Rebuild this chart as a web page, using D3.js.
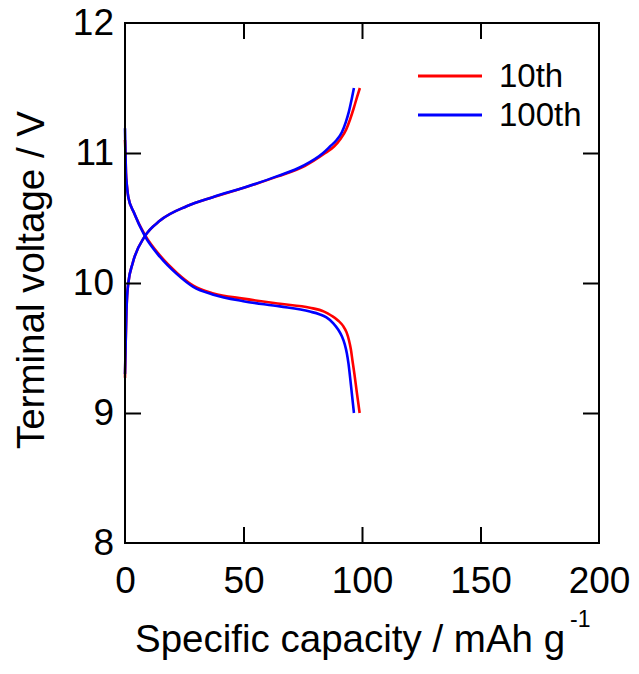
<!DOCTYPE html>
<html>
<head>
<meta charset="utf-8">
<script src="https://cdn.jsdelivr.net/npm/d3@7"></script>
<style>
html,body{margin:0;padding:0;background:#fff;}
text{font-family:Arial,"Liberation Sans",sans-serif;fill:#000;}
</style>
</head>
<body>
<svg id="chart" width="639" height="674"></svg>
<script>
// ---- data ----
const seriesNames = ["10th", "100th"];
const seriesColors = ["#ff0000", "#0000ff"];

const charge10Cap = [0, 0.3, 0.6, 0.9, 1.4, 3.2, 8.4, 14.8, 26, 37, 51.5, 64.5, 75.8, 84.5, 88.2, 91, 93.3, 95, 96.6, 97.9, 99.1];
const charge10V   = [9.27, 9.55, 9.78, 9.9, 10.0, 10.15, 10.36, 10.48, 10.59, 10.66, 10.74, 10.82, 10.9, 11.0, 11.05, 11.11, 11.18, 11.26, 11.35, 11.43, 11.5];
const discharge10Cap = [0, 0.2, 0.4, 0.8, 1.4, 3.8, 8.4, 14.8, 21.8, 28.8, 37.3, 49.9, 65.4, 78, 84, 87, 90, 92, 93.5, 94.5, 95.3, 96, 96.8, 97.8, 99.0];
const discharge10V   = [11.1, 11.0, 10.85, 10.75, 10.66, 10.54, 10.37, 10.21, 10.08, 9.98, 9.92, 9.88, 9.84, 9.81, 9.78, 9.75, 9.71, 9.67, 9.62, 9.56, 9.49, 9.4, 9.3, 9.16, 9.0];

const charge100Cap = [0, 0.3, 0.6, 0.9, 1.4, 3.2, 8.4, 14.8, 26, 37, 51.3, 64, 75, 83.6, 86.5, 89.3, 91.5, 93.2, 94.5, 95.6, 96.6];
const charge100V   = [9.3, 9.55, 9.78, 9.9, 10.0, 10.15, 10.36, 10.48, 10.59, 10.66, 10.74, 10.82, 10.9, 11.0, 11.05, 11.1, 11.16, 11.24, 11.32, 11.41, 11.5];
const discharge100Cap = [0, 0.2, 0.4, 0.8, 1.4, 3.8, 8.4, 14.8, 21.8, 28.8, 37.3, 49.9, 65.4, 78, 82, 85, 87.9, 90, 91.5, 92.7, 93.6, 94.3, 95.3, 96.6];
const discharge100V   = [11.19, 11.0, 10.85, 10.75, 10.66, 10.54, 10.36, 10.2, 10.07, 9.97, 9.91, 9.86, 9.82, 9.78, 9.76, 9.735, 9.69, 9.64, 9.59, 9.53, 9.46, 9.38, 9.22, 9.0];

const xTicks = [0, 50, 100, 150, 200];
const yTicks = [8, 9, 10, 11, 12];
const xTitle = "Specific capacity / mAh g";
const xTitleSup = "-1";
const yTitle = "Terminal voltage / V";

// ---- layout ----
const svg = d3.select("#chart");
const L = 125, R = 599, T = 23, B = 543;
const x = d3.scaleLinear().domain([0, 200]).range([L, R]);
const y = d3.scaleLinear().domain([8, 12]).range([B, T]);
const tickLen = 16;
const fs = 37;
const fsTitle = 38.5;

const zip = (a, b) => a.map((v, i) => [v, b[i]]);
const curves = [
  {pts: zip(charge10Cap, charge10V), s: 0},
  {pts: zip(discharge10Cap, discharge10V), s: 0},
  {pts: zip(charge100Cap, charge100V), s: 1},
  {pts: zip(discharge100Cap, discharge100V), s: 1}
];

const line = d3.line().x(d => x(d[0])).y(d => y(d[1])).curve(d3.curveMonotoneX);

svg.append("g").selectAll("path").data(curves).join("path")
  .attr("d", d => line(d.pts))
  .attr("fill", "none")
  .attr("stroke", d => seriesColors[d.s])
  .attr("stroke-width", 2.6)
  .attr("stroke-linejoin", "round");

// axes (inward ticks on all sides)
const axB = svg.append("g").attr("transform", `translate(0,${B})`)
  .call(d3.axisBottom(x).tickValues(xTicks).tickFormat(d3.format("d")).tickSizeInner(-tickLen).tickSizeOuter(0).tickPadding(24));
const axT = svg.append("g").attr("transform", `translate(0,${T})`)
  .call(d3.axisTop(x).tickValues(xTicks).tickSizeInner(-tickLen).tickSizeOuter(0).tickFormat(""));
const axL = svg.append("g").attr("transform", `translate(${L},0)`)
  .call(d3.axisLeft(y).tickValues(yTicks).tickFormat(d3.format("d")).tickSizeInner(-tickLen).tickSizeOuter(0).tickPadding(11));
const axR = svg.append("g").attr("transform", `translate(${R},0)`)
  .call(d3.axisRight(y).tickValues(yTicks).tickSizeInner(-tickLen).tickSizeOuter(0).tickFormat(""));

[axB, axT, axL, axR].forEach(a => {
  a.select(".domain").remove();
  a.selectAll("line").attr("stroke", "#000").attr("stroke-width", 2);
  a.selectAll("text").attr("font-size", fs).attr("font-family", "Arial, 'Liberation Sans', sans-serif").attr("fill", "#000");
});
// hide ticks coinciding with frame edges
axB.selectAll(".tick").filter(d => d === 0 || d === 200).select("line").remove();
axT.selectAll(".tick").filter(d => d === 0 || d === 200).select("line").remove();
axL.selectAll(".tick").filter(d => d === 8 || d === 12).select("line").remove();
axR.selectAll(".tick").filter(d => d === 8 || d === 12).select("line").remove();

// frame
svg.append("rect").attr("x", L).attr("y", T).attr("width", R - L).attr("height", B - T)
  .attr("fill", "none").attr("stroke", "#000").attr("stroke-width", 2);

// axis titles
const xt = svg.append("text").attr("x", 135).attr("y", 652)
  .attr("text-anchor", "start").attr("font-size", fsTitle);
xt.append("tspan").text(xTitle);
xt.append("tspan").attr("font-size", 23).attr("dy", -25).attr("dx", 5).text(xTitleSup);

svg.append("text").attr("transform", `translate(44,${(T + B) / 2 - 3}) rotate(-90)`)
  .attr("text-anchor", "middle").attr("font-size", fsTitle).text(yTitle);

// legend
const lg = svg.append("g");
seriesNames.forEach((n, i) => {
  const yy = 76 + i * 39;
  lg.append("line").attr("x1", 418).attr("x2", 482).attr("y1", yy).attr("y2", yy)
    .attr("stroke", seriesColors[i]).attr("stroke-width", 3);
  lg.append("text").attr("x", 499).attr("y", yy + 11).attr("font-size", 33).text(n);
});
</script>
</body>
</html>
